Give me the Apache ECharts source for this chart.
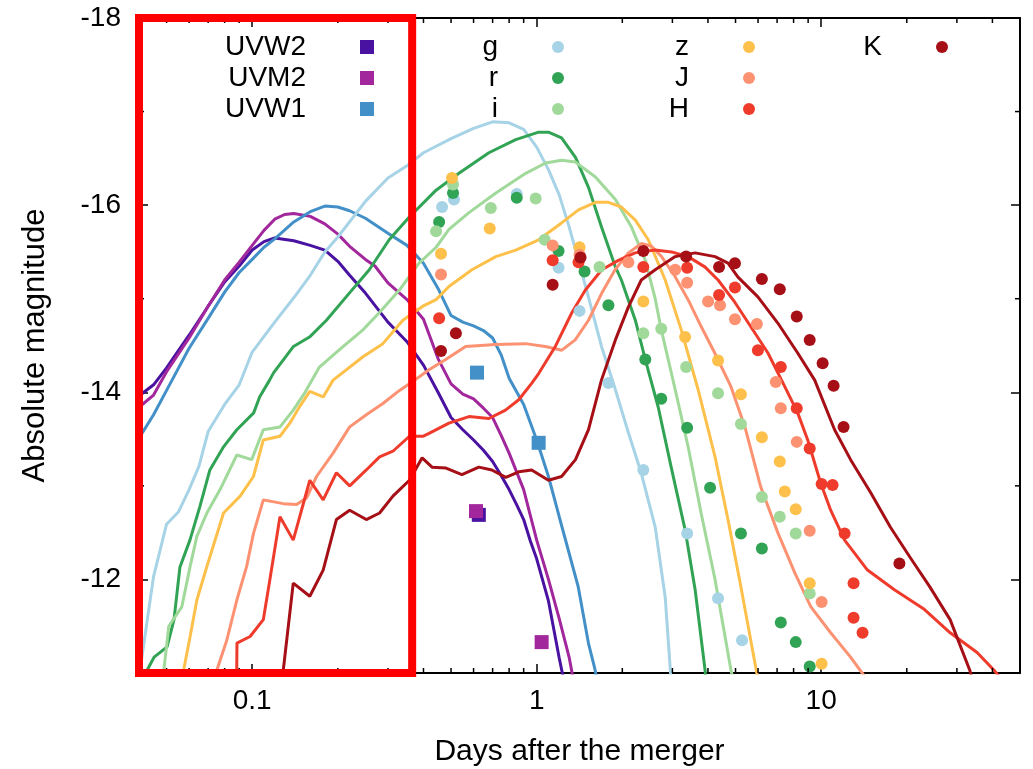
<!DOCTYPE html>
<html>
<head>
<meta charset="utf-8">
<title>Kilonova light curves</title>
<script src="https://cdn.jsdelivr.net/npm/echarts@6/dist/echarts.min.js"></script>
<style>
  html, body { margin: 0; padding: 0; background: #ffffff; }
  #chart { width: 1033px; height: 769px; }
</style>
</head>
<body>
<div id="chart"></div>
<script>
// ---- Axis ranges and tick values -------------------------------------------
const dayRange = [0.04, 50];
const magRange = [-18, -11];
const minorDays = [0.05, 0.06, 0.07, 0.08, 0.09, 0.2, 0.3, 0.4, 0.5, 0.6, 0.7, 0.8, 0.9,
                   2, 3, 4, 5, 6, 7, 8, 9, 20, 30, 40];
const minorMags = [-17, -15, -13];
const highlightDays = [0.04, 0.365];

// ---- Model light curves: [days after merger, absolute magnitude] ------------
const modelUVW2 = [[0.04,-13.96],[0.045,-14.08],[0.05,-14.26],[0.06,-14.61],[0.07,-14.92],[0.08,-15.18],[0.09,-15.35],[0.1,-15.52],[0.11,-15.61],[0.12,-15.65],[0.14,-15.62],[0.16,-15.57],[0.18,-15.52],[0.2,-15.40],[0.22,-15.25],[0.25,-15.06],[0.3,-14.75],[0.35,-14.54],[0.4,-14.29],[0.45,-14.0],[0.5,-13.73],[0.55,-13.60],[0.6,-13.49],[0.65,-13.38],[0.7,-13.26],[0.75,-13.11],[0.8,-12.96],[0.85,-12.80],[0.9,-12.64],[0.95,-12.41],[1.0,-12.22],[1.1,-11.77],[1.2,-11.16],[1.25,-10.9]];
const modelUVM2 = [[0.04,-13.84],[0.045,-13.97],[0.05,-14.22],[0.06,-14.58],[0.07,-14.92],[0.08,-15.20],[0.09,-15.39],[0.1,-15.57],[0.11,-15.73],[0.12,-15.85],[0.13,-15.90],[0.14,-15.91],[0.16,-15.88],[0.18,-15.80],[0.2,-15.69],[0.22,-15.56],[0.25,-15.42],[0.27,-15.35],[0.3,-15.17],[0.35,-14.99],[0.4,-14.78],[0.45,-14.36],[0.5,-14.09],[0.55,-13.98],[0.6,-13.93],[0.65,-13.83],[0.7,-13.73],[0.75,-13.54],[0.8,-13.35],[0.9,-12.96],[1.0,-12.42],[1.1,-12.0],[1.2,-11.58],[1.3,-11.17],[1.36,-10.85]];
const modelUVW1 = [[0.04,-13.51],[0.045,-13.76],[0.05,-14.02],[0.06,-14.47],[0.07,-14.79],[0.08,-15.07],[0.09,-15.28],[0.1,-15.42],[0.11,-15.55],[0.12,-15.64],[0.14,-15.82],[0.16,-15.93],[0.18,-15.99],[0.2,-15.98],[0.22,-15.94],[0.25,-15.86],[0.3,-15.70],[0.35,-15.57],[0.4,-15.38],[0.45,-15.11],[0.5,-14.82],[0.55,-14.75],[0.6,-14.71],[0.65,-14.66],[0.7,-14.58],[0.75,-14.40],[0.8,-14.15],[0.9,-13.87],[1.0,-13.49],[1.1,-13.10],[1.2,-12.67],[1.4,-11.92],[1.52,-11.32],[1.6,-11.05],[1.64,-10.88]];
const modelG = [[0.04,-10.95],[0.042,-11.4],[0.045,-12.03],[0.05,-12.59],[0.055,-12.72],[0.06,-12.96],[0.065,-13.21],[0.07,-13.58],[0.08,-13.87],[0.09,-14.08],[0.1,-14.43],[0.12,-14.75],[0.14,-15.01],[0.16,-15.25],[0.18,-15.50],[0.2,-15.66],[0.25,-16.04],[0.3,-16.29],[0.35,-16.42],[0.4,-16.56],[0.5,-16.71],[0.6,-16.82],[0.7,-16.89],[0.8,-16.88],[0.9,-16.81],[1.0,-16.62],[1.1,-16.38],[1.2,-16.11],[1.3,-15.77],[1.52,-15.02],[1.69,-14.49],[1.89,-14.03],[2.1,-13.57],[2.33,-13.14],[2.61,-12.56],[2.83,-11.81],[2.95,-11.03],[2.98,-10.85]];
const modelR = [[0.0427,-11.03],[0.0452,-11.17],[0.0502,-11.28],[0.0531,-11.57],[0.0557,-12.13],[0.0604,-12.42],[0.0655,-12.78],[0.071,-13.17],[0.0794,-13.42],[0.0883,-13.60],[0.1012,-13.78],[0.1062,-13.95],[0.1151,-14.13],[0.119,-14.21],[0.1397,-14.49],[0.159,-14.59],[0.1824,-14.77],[0.2195,-15.06],[0.258,-15.31],[0.303,-15.63],[0.356,-15.87],[0.443,-16.16],[0.533,-16.34],[0.679,-16.56],[0.844,-16.70],[1.016,-16.78],[1.10,-16.78],[1.223,-16.72],[1.369,-16.51],[1.521,-16.19],[1.689,-15.77],[1.891,-15.34],[1.985,-15.20],[2.222,-14.77],[2.409,-14.35],[2.675,-13.84],[2.97,-13.20],[3.325,-12.53],[3.606,-11.89],[3.908,-11.03],[3.95,-10.85]];
const modelI = [[0.0489,-11.03],[0.0509,-11.50],[0.0566,-11.71],[0.0605,-12.14],[0.0639,-12.46],[0.0693,-12.71],[0.0771,-12.96],[0.0883,-13.33],[0.0996,-13.28],[0.1094,-13.60],[0.1252,-13.63],[0.1394,-13.81],[0.152,-13.98],[0.1723,-14.27],[0.209,-14.49],[0.2457,-14.67],[0.2796,-14.85],[0.3286,-15.09],[0.386,-15.38],[0.443,-15.55],[0.4916,-15.74],[0.578,-15.92],[0.7186,-16.13],[0.915,-16.34],[1.075,-16.45],[1.223,-16.48],[1.369,-16.46],[1.609,-16.30],[1.891,-16.06],[2.151,-15.77],[2.409,-15.41],[2.61,-15.0],[2.741,-14.67],[3.068,-14.03],[3.406,-13.42],[3.784,-12.71],[4.236,-12.0],[4.819,-11.03],[4.95,-10.88]];
const modelZ = [[0.0574,-11.03],[0.0605,-11.39],[0.0639,-11.78],[0.0693,-12.14],[0.0793,-12.71],[0.0907,-12.89],[0.101,-13.10],[0.1094,-13.49],[0.1252,-13.53],[0.1356,-13.67],[0.147,-13.85],[0.1594,-14.01],[0.1776,-13.95],[0.1925,-14.13],[0.2452,-14.38],[0.288,-14.52],[0.3385,-14.77],[0.398,-14.92],[0.443,-14.99],[0.4916,-15.13],[0.592,-15.31],[0.7186,-15.45],[0.844,-15.52],[1.016,-15.63],[1.223,-15.81],[1.403,-15.95],[1.609,-16.03],[1.787,-16.03],[1.985,-15.98],[2.222,-15.84],[2.468,-15.63],[2.83,-15.20],[3.221,-14.67],[3.693,-14.03],[4.236,-13.31],[4.704,-12.64],[5.224,-11.92],[5.848,-11.11],[6.0,-10.93]];
const modelJ = [[0.0751,-11.03],[0.0814,-11.35],[0.0883,-11.78],[0.0956,-12.14],[0.101,-12.49],[0.1094,-12.85],[0.1286,-12.81],[0.1432,-12.80],[0.1552,-12.87],[0.1683,-13.10],[0.1925,-13.35],[0.2201,-13.63],[0.2518,-13.76],[0.288,-13.88],[0.3294,-14.02],[0.357,-14.09],[0.4184,-14.24],[0.4788,-14.35],[0.5626,-14.49],[0.7166,-14.51],[0.913,-14.52],[1.073,-14.49],[1.226,-14.45],[1.366,-14.56],[1.521,-14.77],[1.694,-15.06],[1.886,-15.31],[2.10,-15.49],[2.336,-15.59],[2.534,-15.56],[2.748,-15.45],[3.06,-15.24],[3.406,-14.99],[3.79,-14.70],[4.226,-14.42],[4.819,-14.06],[5.395,-13.63],[6.13,-12.99],[7.04,-12.50],[8.08,-12.07],[9.19,-11.71],[10.8,-11.43],[12.69,-11.17],[13.7,-11.03],[15,-10.87]];
const modelH = [[0.0882,-10.98],[0.0884,-11.32],[0.0983,-11.39],[0.1094,-11.57],[0.1154,-12.0],[0.1252,-12.67],[0.1394,-12.42],[0.1594,-13.06],[0.1776,-12.85],[0.1977,-13.14],[0.2201,-13.0],[0.2518,-13.17],[0.2804,-13.31],[0.3124,-13.37],[0.357,-13.53],[0.398,-13.53],[0.4184,-13.56],[0.4916,-13.67],[0.578,-13.74],[0.679,-13.72],[0.777,-13.81],[0.865,-13.92],[0.963,-14.10],[1.016,-14.20],[1.163,-14.49],[1.329,-14.85],[1.481,-15.09],[1.694,-15.31],[1.937,-15.41],[2.217,-15.49],[2.604,-15.52],[2.978,-15.50],[3.406,-15.45],[3.9,-15.34],[4.341,-15.20],[4.977,-14.96],[5.66,-14.70],[6.50,-14.42],[7.45,-14.06],[8.27,-13.78],[8.97,-13.49],[9.96,-13.03],[10.8,-12.74],[12.09,-12.42],[14.55,-12.10],[18.09,-11.89],[23.04,-11.68],[28.42,-11.43],[35.33,-11.22],[40.53,-11.03],[43,-10.93]];
const modelK = [[0.1286,-11.03],[0.1394,-11.96],[0.1594,-11.82],[0.1776,-12.10],[0.1977,-12.64],[0.2201,-12.74],[0.2518,-12.64],[0.2804,-12.71],[0.3124,-12.89],[0.357,-13.06],[0.3957,-13.30],[0.4287,-13.20],[0.48,-13.19],[0.546,-13.12],[0.626,-13.20],[0.696,-13.17],[0.779,-13.09],[0.865,-13.15],[0.96,-13.17],[1.10,-13.06],[1.223,-13.10],[1.369,-13.28],[1.521,-13.60],[1.689,-14.13],[1.891,-14.56],[2.10,-14.91],[2.332,-15.20],[2.61,-15.31],[3.068,-15.45],[3.606,-15.49],[4.236,-15.45],[4.704,-15.38],[5.1,-15.23],[5.993,-15.02],[7.04,-14.74],[8.27,-14.42],[9.49,-14.13],[11.15,-13.60],[12.69,-13.28],[14.92,-12.93],[17.5,-12.56],[20.5,-12.24],[24.1,-11.92],[28.4,-11.57],[33.3,-11.03],[34.7,-10.82]];

// ---- Observed photometry: [days after merger, absolute magnitude] -----------
const obsUVW2 = [[0.626,-12.69]];
const obsUVM2 = [[0.612,-12.73],[1.041,-11.33]];
const obsUVW1 = [[0.617,-14.21],[1.016,-13.46]];
const obsG = [[0.465,-15.98],[0.512,-16.06],[0.851,-16.12],[1.194,-15.33],[1.415,-14.87],[1.787,-14.10],[2.371,-13.17],[3.38,-12.49],[4.34,-11.80],[5.27,-11.35]];
const obsR = [[0.508,-16.13],[0.454,-15.82],[0.851,-16.08],[1.194,-15.51],[1.473,-15.29],[1.787,-14.93],[2.409,-14.35],[2.741,-13.93],[3.38,-13.62],[4.07,-12.98],[5.224,-12.49],[6.189,-12.33],[7.213,-11.54],[8.141,-11.33],[9.115,-11.07]];
const obsI = [[0.508,-16.22],[0.443,-15.72],[0.69,-15.97],[0.992,-16.07],[1.067,-15.63],[1.663,-15.34],[2.371,-14.63],[2.741,-14.68],[3.352,-14.27],[4.341,-13.99],[5.224,-13.66],[6.189,-12.88],[7.155,-12.67],[8.141,-12.49],[9.115,-11.85]];
const obsZ = [[0.504,-16.29],[0.461,-15.48],[0.684,-15.75],[1.415,-15.55],[2.371,-14.97],[3.325,-14.59],[4.341,-14.34],[5.224,-13.98],[6.189,-13.52],[7.155,-13.26],[7.45,-12.94],[8.141,-12.75],[9.115,-11.96],[10.04,-11.10]];
const obsJ = [[0.461,-15.26],[1.138,-15.57],[1.415,-15.47],[2.1,-15.39],[3.068,-15.31],[3.38,-15.17],[4.005,-14.97],[4.411,-14.93],[4.977,-14.78],[5.945,-14.73],[6.928,-14.11],[7.213,-13.83],[8.207,-13.47],[9.115,-12.52],[10.04,-11.76]];
const obsH = [[0.454,-14.79],[1.138,-15.41],[1.403,-15.39],[2.371,-15.34],[3.38,-15.33],[4.376,-15.04],[4.977,-15.12],[5.993,-14.45],[7.213,-14.27],[8.207,-13.83],[9.115,-13.40],[10.04,-13.02],[10.97,-13.01],[12.09,-12.49],[13.0,-11.96],[13.0,-11.59],[13.98,-11.43]];
const obsK = [[0.52,-14.63],[0.461,-14.44],[1.138,-15.15],[1.426,-15.44],[2.371,-15.51],[3.352,-15.45],[4.376,-15.34],[4.977,-15.38],[6.189,-15.21],[7.155,-15.10],[8.207,-14.81],[9.115,-14.56],[10.12,-14.31],[11.06,-14.07],[11.99,-13.63],[18.84,-12.17]];

// ---- Band names, colours and legend columns ---------------------------------
const bandNames  = ['UVW2', 'UVM2', 'UVW1', 'g', 'r', 'i', 'z', 'J', 'H', 'K'];
const bandColors = ['#4a12a0', '#a3279c', '#4390c8', '#a6d3e6', '#31a354', '#a1d99b',
                    '#fdc04a', '#fc9272', '#ef3b2c', '#a50f15'];
const bandModels = [modelUVW2, modelUVM2, modelUVW1, modelG, modelR, modelI, modelZ, modelJ, modelH, modelK];
const bandObs    = [obsUVW2, obsUVM2, obsUVW1, obsG, obsR, obsI, obsZ, obsJ, obsH, obsK];
const legendColumns = [['UVW2', 'UVM2', 'UVW1'], ['g', 'r', 'i'], ['z', 'J', 'H'], ['K']];

const FONT = 'Liberation Sans, Arial, Helvetica, sans-serif';
const isUV = name => name.startsWith('UV');

const chart = echarts.init(document.getElementById('chart'), null, { renderer: 'canvas' });

// model curves
const lineSeries = bandNames.map((name, k) => ({
  name: name + ' model',
  type: 'line',
  data: bandModels[k],
  showSymbol: false,
  symbol: 'none',
  smooth: false,
  clip: true,
  z: 2,
  lineStyle: { color: bandColors[k], width: 3 },
  itemStyle: { color: bandColors[k] },
  emphasis: { disabled: true }
}));

// photometric points
const pointSeries = bandNames.map((name, k) => ({
  name: name,
  type: 'scatter',
  data: bandObs[k],
  symbol: isUV(name) ? 'rect' : 'circle',
  symbolSize: isUV(name) ? 14 : 12,
  clip: true,
  z: 3,
  itemStyle: { color: bandColors[k], opacity: 1 },
  emphasis: { disabled: true }
}));

// minor ticks of the log day axis (2..9 per decade), drawn on bottom and top
const minorDayTicks = {
  name: 'minorDayTicks',
  type: 'custom',
  xAxisIndex: 0, yAxisIndex: 0,
  data: minorDays.map(d => [d, magRange[1]]),
  silent: true, clip: false, z: 5,
  renderItem: (params, api) => {
    const cs = params.coordSys;
    const x = api.coord([api.value(0), api.value(1)])[0];
    const style = { stroke: '#000', lineWidth: 1.5 };
    return { type: 'group', children: [
      { type: 'line', shape: { x1: x, y1: cs.y + cs.height, x2: x, y2: cs.y + cs.height - 5 }, style },
      { type: 'line', shape: { x1: x, y1: cs.y, x2: x, y2: cs.y + 5 }, style }
    ]};
  }
};

// minor ticks of the magnitude axis, drawn on left and right
const minorMagTicks = {
  name: 'minorMagTicks',
  type: 'custom',
  xAxisIndex: 0, yAxisIndex: 0,
  data: minorMags.map(m => [dayRange[0], m]),
  silent: true, clip: false, z: 5,
  renderItem: (params, api) => {
    const cs = params.coordSys;
    const y = api.coord([api.value(0), api.value(1)])[1];
    const style = { stroke: '#000', lineWidth: 1.5 };
    return { type: 'group', children: [
      { type: 'line', shape: { x1: cs.x, y1: y, x2: cs.x + 5, y2: y }, style },
      { type: 'line', shape: { x1: cs.x + cs.width, y1: y, x2: cs.x + cs.width - 5, y2: y }, style }
    ]};
  }
};

// red frame around the early-time window
const earlyWindow = {
  name: 'earlyWindow',
  type: 'custom',
  xAxisIndex: 0, yAxisIndex: 0,
  data: [[highlightDays[0], magRange[1], highlightDays[1]]],
  dimensions: ['start', 'mag', 'end'],
  encode: { x: 0, y: 1 },
  silent: true, clip: false, z: 20,
  renderItem: (params, api) => {
    const cs = params.coordSys;
    const x0 = api.coord([api.value(0), magRange[1]])[0];
    const x1 = api.coord([api.value(2), magRange[1]])[0];
    return {
      type: 'rect',
      shape: { x: x0, y: cs.y, width: x1 - x0, height: cs.height },
      style: { fill: 'none', stroke: '#ff0000', lineWidth: 8 }
    };
  }
};

const legendText = { fontSize: 28, color: '#000', fontFamily: FONT, padding: [0, 49, 0, 0] };
const legendRights = [659, 469, 278, 85];
const legends = legendColumns.map((names, c) => ({
  data: names.map(n => ({ name: n, icon: isUV(n) ? 'rect' : 'circle' })),
  orient: 'vertical',
  align: 'right',
  right: legendRights[c],
  top: 33,
  padding: 0,
  itemGap: 3,
  itemWidth: c === 0 ? 14 : 12,
  itemHeight: c === 0 ? 14 : 12,
  selectedMode: false,
  textStyle: legendText
}));

const axisLineStyle = { show: true, lineStyle: { color: '#000', width: 2 } };
const isDecade = v => Math.abs(Math.log10(v) - Math.round(Math.log10(v))) < 1e-6;

const dayAxisBase = {
  type: 'log',
  logBase: 10,
  min: dayRange[0],
  max: dayRange[1],
  axisLine: axisLineStyle,
  axisTick: { show: true, inside: true, length: 9, lineStyle: { color: '#000', width: 1.5 } },
  splitLine: { show: false },
  minorTick: { show: false },
  minorSplitLine: { show: false }
};

const magAxisBase = {
  type: 'value',
  inverse: true,
  min: magRange[0],
  max: magRange[1],
  interval: 2,
  axisLine: axisLineStyle,
  axisTick: { show: true, inside: true, length: 9, lineStyle: { color: '#000', width: 1.5 } },
  splitLine: { show: false }
};

chart.setOption({
  animation: false,
  backgroundColor: '#ffffff',
  textStyle: { fontFamily: FONT, color: '#000' },
  grid: { left: 139, right: 13, top: 18, bottom: 96, containLabel: false, outerBoundsMode: 'none' },
  legend: legends,
  xAxis: [
    Object.assign({}, dayAxisBase, {
      position: 'bottom',
      name: 'Days after the merger',
      nameLocation: 'middle',
      nameGap: 64,
      nameTextStyle: { fontSize: 30, color: '#000', fontFamily: FONT },
      axisLabel: {
        show: true, fontSize: 28, color: '#000', fontFamily: FONT, margin: 14,
        showMinLabel: false, showMaxLabel: false,
        formatter: v => (isDecade(v) ? String(+Number(v).toPrecision(3)) : '')
      }
    }),
    Object.assign({}, dayAxisBase, {
      position: 'top',
      axisLabel: { show: false }
    })
  ],
  yAxis: [
    Object.assign({}, magAxisBase, {
      position: 'left',
      name: 'Absolute magnitude',
      nameLocation: 'middle',
      nameRotate: 90,
      nameGap: 88,
      nameTextStyle: { fontSize: 31, color: '#000', fontFamily: FONT },
      axisLabel: {
        show: true, fontSize: 28, color: '#000', fontFamily: FONT, margin: 18,
        formatter: v => (v % 2 === 0 ? String(v) : '')
      }
    }),
    Object.assign({}, magAxisBase, {
      position: 'right',
      axisLabel: { show: false }
    })
  ],
  series: [].concat(lineSeries, pointSeries, [minorDayTicks, minorMagTicks, earlyWindow])
});
</script>
</body>
</html>
